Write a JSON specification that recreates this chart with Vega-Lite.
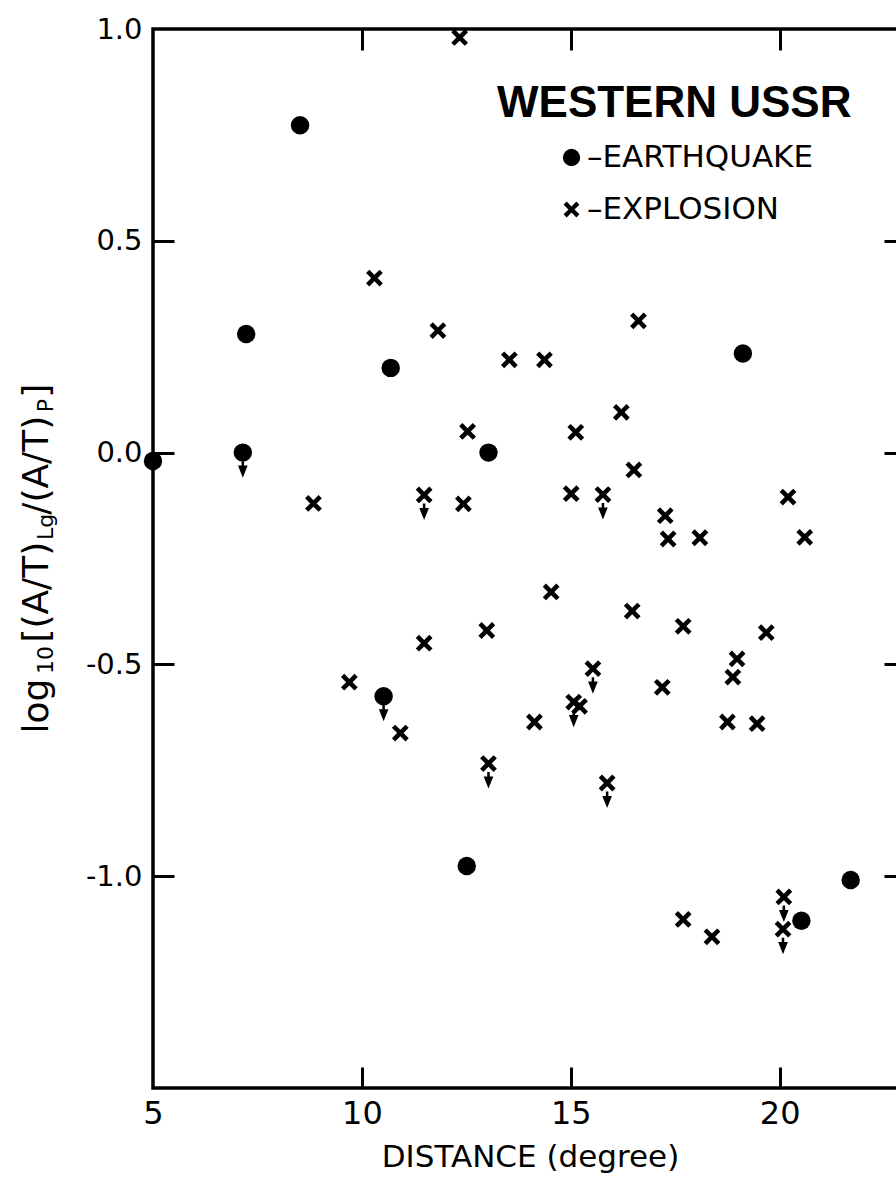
{
  "$schema": "https://vega.github.io/schema/vega-lite/v6.json",
  "width": 752,
  "height": 1059,
  "autosize": {"type": "none"},
  "padding": {"left": 153, "top": 29, "right": 0, "bottom": 92},
  "background": "white",
  "config": {
    "view": {"stroke": "black", "strokeWidth": 3.5},
    "axis": {
      "grid": false,
      "domain": false,
      "tickColor": "black",
      "tickWidth": 3,
      "labelColor": "black",
      "titleColor": "black",
      "labelFont": "DejaVu Sans",
      "titleFont": "DejaVu Sans",
      "titleFontWeight": "normal",
      "labelFlush": false,
      "labelOverlap": false
    }
  },
  "data": {
    "values": [
      {"distance": 5.0, "logratio": -0.02, "event": "EARTHQUAKE", "upper_limit": false},
      {"distance": 7.15, "logratio": 0.0, "event": "EARTHQUAKE", "upper_limit": true},
      {"distance": 7.23, "logratio": 0.28, "event": "EARTHQUAKE", "upper_limit": false},
      {"distance": 8.52, "logratio": 0.773, "event": "EARTHQUAKE", "upper_limit": false},
      {"distance": 10.69, "logratio": 0.2, "event": "EARTHQUAKE", "upper_limit": false},
      {"distance": 10.52, "logratio": -0.575, "event": "EARTHQUAKE", "upper_limit": true},
      {"distance": 12.51, "logratio": -0.976, "event": "EARTHQUAKE", "upper_limit": false},
      {"distance": 13.03, "logratio": 0.0, "event": "EARTHQUAKE", "upper_limit": false},
      {"distance": 19.12, "logratio": 0.234, "event": "EARTHQUAKE", "upper_limit": false},
      {"distance": 20.52, "logratio": -1.105, "event": "EARTHQUAKE", "upper_limit": false},
      {"distance": 21.7, "logratio": -1.009, "event": "EARTHQUAKE", "upper_limit": false},
      {"distance": 12.34, "logratio": 0.98, "event": "EXPLOSION", "upper_limit": false},
      {"distance": 10.3, "logratio": 0.412, "event": "EXPLOSION", "upper_limit": false},
      {"distance": 11.82, "logratio": 0.288, "event": "EXPLOSION", "upper_limit": false},
      {"distance": 13.53, "logratio": 0.219, "event": "EXPLOSION", "upper_limit": false},
      {"distance": 14.37, "logratio": 0.219, "event": "EXPLOSION", "upper_limit": false},
      {"distance": 16.62, "logratio": 0.311, "event": "EXPLOSION", "upper_limit": false},
      {"distance": 12.53, "logratio": 0.05, "event": "EXPLOSION", "upper_limit": false},
      {"distance": 8.84, "logratio": -0.12, "event": "EXPLOSION", "upper_limit": false},
      {"distance": 11.49, "logratio": -0.1, "event": "EXPLOSION", "upper_limit": true},
      {"distance": 12.43, "logratio": -0.121, "event": "EXPLOSION", "upper_limit": false},
      {"distance": 12.99, "logratio": -0.42, "event": "EXPLOSION", "upper_limit": false},
      {"distance": 11.49, "logratio": -0.45, "event": "EXPLOSION", "upper_limit": false},
      {"distance": 9.7, "logratio": -0.542, "event": "EXPLOSION", "upper_limit": false},
      {"distance": 10.92, "logratio": -0.662, "event": "EXPLOSION", "upper_limit": false},
      {"distance": 13.03, "logratio": -0.734, "event": "EXPLOSION", "upper_limit": true},
      {"distance": 16.21, "logratio": 0.095, "event": "EXPLOSION", "upper_limit": false},
      {"distance": 15.12, "logratio": 0.048, "event": "EXPLOSION", "upper_limit": false},
      {"distance": 16.51, "logratio": -0.041, "event": "EXPLOSION", "upper_limit": false},
      {"distance": 15.01, "logratio": -0.097, "event": "EXPLOSION", "upper_limit": false},
      {"distance": 15.77, "logratio": -0.099, "event": "EXPLOSION", "upper_limit": true},
      {"distance": 17.26, "logratio": -0.149, "event": "EXPLOSION", "upper_limit": false},
      {"distance": 17.33, "logratio": -0.204, "event": "EXPLOSION", "upper_limit": false},
      {"distance": 18.09, "logratio": -0.201, "event": "EXPLOSION", "upper_limit": false},
      {"distance": 20.2, "logratio": -0.105, "event": "EXPLOSION", "upper_limit": false},
      {"distance": 20.6, "logratio": -0.2, "event": "EXPLOSION", "upper_limit": false},
      {"distance": 14.53, "logratio": -0.329, "event": "EXPLOSION", "upper_limit": false},
      {"distance": 16.47, "logratio": -0.374, "event": "EXPLOSION", "upper_limit": false},
      {"distance": 17.69, "logratio": -0.41, "event": "EXPLOSION", "upper_limit": false},
      {"distance": 19.68, "logratio": -0.425, "event": "EXPLOSION", "upper_limit": false},
      {"distance": 18.98, "logratio": -0.487, "event": "EXPLOSION", "upper_limit": false},
      {"distance": 18.88, "logratio": -0.53, "event": "EXPLOSION", "upper_limit": false},
      {"distance": 15.53, "logratio": -0.51, "event": "EXPLOSION", "upper_limit": true},
      {"distance": 17.19, "logratio": -0.554, "event": "EXPLOSION", "upper_limit": false},
      {"distance": 15.07, "logratio": -0.589, "event": "EXPLOSION", "upper_limit": true},
      {"distance": 15.21, "logratio": -0.599, "event": "EXPLOSION", "upper_limit": false},
      {"distance": 14.13, "logratio": -0.636, "event": "EXPLOSION", "upper_limit": false},
      {"distance": 18.75, "logratio": -0.636, "event": "EXPLOSION", "upper_limit": false},
      {"distance": 19.46, "logratio": -0.64, "event": "EXPLOSION", "upper_limit": false},
      {"distance": 15.87, "logratio": -0.78, "event": "EXPLOSION", "upper_limit": true},
      {"distance": 17.69, "logratio": -1.102, "event": "EXPLOSION", "upper_limit": false},
      {"distance": 18.38, "logratio": -1.143, "event": "EXPLOSION", "upper_limit": false},
      {"distance": 20.1, "logratio": -1.049, "event": "EXPLOSION", "upper_limit": true},
      {"distance": 20.08, "logratio": -1.125, "event": "EXPLOSION", "upper_limit": true}
    ]
  },
  "layer": [
    {
      "transform": [{"filter": "datum.event === 'EARTHQUAKE'"}],
      "mark": {"type": "point", "filled": true, "color": "black", "size": 340, "opacity": 1},
      "encoding": {
        "x": {
          "field": "distance", "type": "quantitative",
          "scale": {"domain": [5, 23], "nice": false, "zero": false},
          "axis": {
            "orient": "bottom", "values": [5, 10, 15, 20], "ticks": false,
            "labelFontSize": 32, "labelPadding": 10,
            "title": "DISTANCE (degree)", "titleFontSize": 31,
            "titleX": 377, "titleY": 78, "titleAlign": "center", "titleBaseline": "alphabetic"
          }
        },
        "y": {
          "field": "logratio", "type": "quantitative",
          "scale": {"domain": [-1.5, 1.0], "nice": false, "zero": false},
          "axis": {
            "orient": "left", "values": [-1, -0.5, 0, 0.5, 1], "ticks": false,
            "labelFontSize": 29, "labelPadding": 11,
            "labelExpr": "datum.value < 0 ? '-' + format(abs(datum.value), '.1f') : format(datum.value, '.1f')",
            "title": "log\u2003[(A/T)\u2002\u2005/(A/T)\u2002]", "titleFontSize": 36, "titleAngle": 270,
            "titleX": -106, "titleY": 704, "titleAlign": "left", "titleBaseline": "alphabetic"
          }
        },
        "shape": {
          "field": "event", "type": "nominal",
          "scale": {
            "domain": ["EARTHQUAKE", "EXPLOSION"],
            "range": [
              "circle",
              "M0,0.35L-0.56,0.91L-0.91,0.56L-0.35,0L-0.91,-0.56L-0.56,-0.91L0,-0.35L0.56,-0.91L0.91,-0.56L0.35,0L0.91,0.56L0.56,0.91Z"
            ]
          },
          "legend": {
            "orient": "none", "legendX": 344, "legendY": 53, "direction": "vertical", "padding": 0,
            "title": "WESTERN USSR", "titleFont": "Liberation Sans", "titleFontSize": 44, "titleFontWeight": "bold",
            "titleColor": "black", "titlePadding": 16, "titleLimit": 0,
            "labelFont": "DejaVu Sans", "labelFontSize": 31, "labelColor": "black", "labelLimit": 0,
            "labelExpr": "'\u2013' + datum.label", "labelOffset": 0,
            "symbolOffset": 59, "symbolSize": 300, "symbolStrokeWidth": 0,
            "symbolFillColor": "black", "symbolOpacity": 1,
            "rowPadding": 20
          }
        }
      }
    },
    {
      "transform": [{"filter": "datum.event === 'EXPLOSION'"}],
      "mark": {"type": "point", "filled": true, "color": "black", "size": 340, "opacity": 1},
      "encoding": {
        "x": {
          "field": "distance", "type": "quantitative",
          "axis": {"orient": "top", "values": [10, 15, 20], "tickSize": -21, "labels": false, "title": null}
        },
        "y": {
          "field": "logratio", "type": "quantitative",
          "axis": {
            "orient": "right", "values": [-1, -0.5, 0, 0.5], "tickSize": -21, "labels": false,
            "title": "Lg", "titleFontSize": 22, "titleAngle": 270,
            "titleX": -853, "titleY": 497.5, "titleAlign": "center", "titleBaseline": "alphabetic"
          }
        },
        "shape": {"field": "event", "type": "nominal"}
      }
    },
    {
      "transform": [{"filter": "datum.upper_limit"}],
      "mark": {
        "type": "point", "shape": "M0,1.2L0,2.1M-0.42,2.0L0,3.05L0.42,2.0Z",
        "filled": true, "fill": "black", "stroke": "black", "strokeWidth": 2.5, "size": 202, "opacity": 1
      },
      "encoding": {
        "x": {
          "field": "distance", "type": "quantitative",
          "axis": {
            "orient": "bottom", "values": [10, 15, 20], "tickSize": -21, "labels": false,
            "title": "P", "titleFontSize": 22, "titleAngle": 270,
            "titleX": -101, "titleY": -683, "titleAlign": "center", "titleBaseline": "alphabetic"
          }
        },
        "y": {
          "field": "logratio", "type": "quantitative",
          "axis": {
            "orient": "left", "values": [-1, -0.5, 0, 0.5], "tickSize": -21, "labels": false,
            "title": "10", "titleFontSize": 22, "titleAngle": 270,
            "titleX": -101, "titleY": 630.5, "titleAlign": "center", "titleBaseline": "alphabetic"
          }
        }
      }
    }
  ],
  "resolve": {"axis": {"x": "independent", "y": "independent"}}
}
